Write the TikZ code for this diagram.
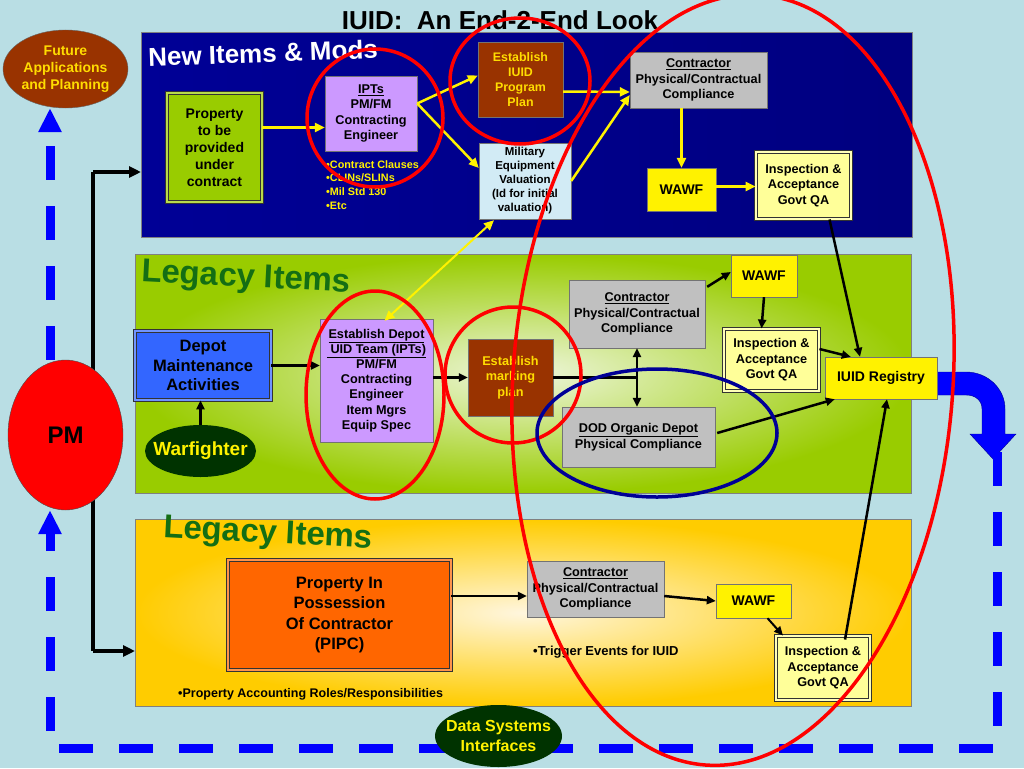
\documentclass[tikz,border=0pt]{standalone}
\usepackage{fontspec}
\setmainfont{Liberation Sans}
\usetikzlibrary{arrows.meta,calc,shapes.geometric}

\definecolor{bgcol}{RGB}{185,222,228}
\definecolor{navyL}{RGB}{0,0,150}
\definecolor{navyM}{RGB}{0,0,70}
\definecolor{propgreen}{RGB}{153,204,0}
\definecolor{lilac}{RGB}{204,153,255}
\definecolor{brownbox}{RGB}{153,51,0}
\definecolor{mevblue}{RGB}{210,235,245}
\definecolor{graybox}{RGB}{192,192,192}
\definecolor{paleyel}{RGB}{255,255,153}
\definecolor{depotblue}{RGB}{51,102,255}
\definecolor{darkgrn}{RGB}{0,51,0}
\definecolor{pipcorange}{RGB}{255,102,0}
\definecolor{lblgreen}{RGB}{20,110,20}
\definecolor{gold}{RGB}{255,220,0}
\definecolor{loopblue}{RGB}{0,0,255}
\definecolor{ringblue}{RGB}{0,0,150}

\tikzset{
  box/.style={draw=black!55, text=black, align=center, inner sep=1pt,
    font=\fontsize{12.7}{15.5}\selectfont\bfseries},
  dblbox/.style={box, draw=black!80, double=#1!70!white, double distance=2.2pt, line width=0.9pt, fill=#1},
  panel/.style={draw=black!50, anchor=north west, inner sep=0pt},
  oval/.style={ellipse, inner sep=0pt},
  yarrow/.style={draw=yellow, line width=2.5pt, -{Triangle[length=10pt,width=9pt]}},
  barrow/.style={draw=black, line width=2.5pt, -{Triangle[length=9pt,width=8pt]}},
  pmline/.style={draw=black, line width=4pt},
  loopline/.style={draw=loopblue, line width=9pt, dash pattern=on 34pt off 26pt,
    -{Triangle[length=24pt,width=22pt]}},
  ring/.style={draw=red, line width=3.5pt},
  lbl/.style={font=\fontsize{33}{36}\selectfont\bfseries, text=lblgreen, inner sep=1pt}
}

\begin{document}
\begin{tikzpicture}[x=1pt,y=-1pt]
\fill[bgcol] (0,0) rectangle (1024,768);
\useasboundingbox (0,0) rectangle (1024,768);

\node[panel, left color=navyL, middle color=navyM, right color=navyL!85!black,
  minimum width=771, minimum height=205] (newp) at (141,32) {};
\node[panel, inner color={rgb,255:red,238;green,246;blue,220}, outer color=propgreen,
  minimum width=776, minimum height=239] (legp) at (135,254) {};
\node[panel, inner color={rgb,255:red,255;green,246;blue,222}, outer color={rgb,255:red,255;green,204;blue,0},
  minimum width=776, minimum height=187] (pipp) at (135,519) {};

\node[font=\fontsize{26}{28}\selectfont\bfseries, text=white, rotate=2] (newlbl) at (263,53) {New Items \& Mods};
\node[lbl, rotate=-3] (leglbl) at (246,279) {Legacy Items};
\node[lbl, rotate=-3] (piplbl) at (268,535) {Legacy Items};

\coordinate (spineT) at (93,172);
\coordinate (spineB) at (93,651);
\coordinate (newin) at (141,172);
\coordinate (legin) at (135,651);
\draw[pmline] (spineT) -- (spineB);
\draw[pmline, -{Triangle[length=12pt,width=11pt]}] (spineT) -- (newin);
\draw[pmline, -{Triangle[length=12pt,width=11pt]}] (spineB) -- (legin);

\fill[loopblue, draw=ringblue] (937,372) -- (966,372) .. controls (987,372) and (1005,388) .. (1005,409)
  -- (1005,434) -- (1016,434) -- (993,459) -- (970,434) -- (982,434) -- (982,409)
  .. controls (982,401) and (976,395) .. (966,395) -- (937,395) -- cycle;

\coordinate (loopR) at (997,452);
\coordinate (loopBR) at (997,748);
\coordinate (loopBL) at (50,748);

\node[oval, fill=red, draw=black!70, minimum width=115, minimum height=150,
  label={[font=\fontsize{24}{26}\selectfont\bfseries]center:PM}] (pm) at (65.5,435) {};
\node[oval, fill=brownbox, draw=black!60, minimum width=125, minimum height=78,
  label={[text=gold, align=center, font=\fontsize{14}{17}\selectfont\bfseries]center:Future\\Applications\\and Planning}] (future) at (65.5,69) {};

\draw[loopline] (loopR) -- (loopBR) -- (loopBL) -- (loopBL |- pm.south);
\draw[loopline] (loopBL |- pm.north) -- (loopBL |- future.south);

\node[dblbox=propgreen, minimum width=95, minimum height=109,
  font=\fontsize{14}{17}\selectfont\bfseries] (prop) at (214.5,147.5) {Property\\to be\\provided\\under\\contract};
\node[box, fill=lilac, minimum width=92, minimum height=75] (ipt) at (371,113.5) {\underline{IPTs}\\PM/FM\\Contracting\\Engineer};
\node[box, fill=brownbox, text=gold, minimum width=85, minimum height=75,
  font=\fontsize{12.4}{15}\selectfont\bfseries] (iuidplan) at (520.5,79.5) {Establish\\IUID\\Program\\Plan};
\node[box, fill=mevblue, minimum width=92, minimum height=76,
  font=\fontsize{11.5}{14}\selectfont\bfseries] (mev) at (525,181) {Military\\Equipment\\Valuation\\(Id for initial\\valuation)};
\node[box, fill=graybox, minimum width=137, minimum height=56] (contrA) at (698.5,80) {\underline{Contractor}\\Physical/Contractual\\Compliance};
\node[box, fill=yellow, minimum width=69, minimum height=43,
  font=\fontsize{14}{17}\selectfont\bfseries] (wawfA) at (681.5,189.5) {WAWF};
\node[dblbox=paleyel, minimum width=95, minimum height=67] (inspA) at (803.5,185.5) {Inspection \&\\Acceptance\\Govt QA};
\node[anchor=north west, text=yellow, align=left, inner sep=0pt,
  font=\fontsize{10.8}{13.7}\selectfont\bfseries] (clauses) at (326,160) {•Contract Clauses\\•CLINs/SLINs\\•Mil Std 130\\•Etc};

\node[dblbox=depotblue, minimum width=136, minimum height=69,
  font=\fontsize{16.5}{19.5}\selectfont\bfseries] (depot) at (203,365.5) {Depot\\Maintenance\\Activities};
\node[oval, fill=darkgrn, minimum width=111, minimum height=52,
  label={[text=yellow, font=\fontsize{19}{21}\selectfont\bfseries]center:Warfighter}] (warf) at (200.5,451) {};
\node[box, fill=lilac, minimum width=113, minimum height=123,
  font=\fontsize{12.7}{15.2}\selectfont\bfseries] (team) at (376.5,380.5) {\underline{Establish Depot}\\\underline{\ UID Team (IPTs)}\\PM/FM\\Contracting\\Engineer\\Item Mgrs\\Equip Spec};
\node[box, fill=brownbox, text=gold, minimum width=85, minimum height=77] (mark) at (510.5,377.5) {Establish\\marking\\plan};
\node[box, fill=graybox, minimum width=136, minimum height=68] (contrB) at (637,314) {\underline{Contractor}\\Physical/Contractual\\Compliance};
\node[box, fill=yellow, minimum width=66, minimum height=42,
  font=\fontsize{14}{17}\selectfont\bfseries] (wawfB) at (764,276) {WAWF};
\node[dblbox=paleyel, minimum width=95, minimum height=62] (inspB) at (771.5,360) {Inspection \&\\Acceptance\\Govt QA};
\node[box, fill=yellow, minimum width=112, minimum height=42,
  font=\fontsize{14}{17}\selectfont\bfseries] (reg) at (881,378) {IUID Registry};
\node[box, fill=graybox, minimum width=153, minimum height=60] (dod) at (638.5,437) {\underline{DOD Organic Depot}\\Physical Compliance};

\node[dblbox=pipcorange, minimum width=223, minimum height=110,
  font=\fontsize{16.5}{20.5}\selectfont\bfseries] (pipc) at (339.5,615) {Property In\\Possession\\Of Contractor\\(PIPC)};
\node[box, fill=graybox, minimum width=137, minimum height=56] (contrC) at (595.5,589) {\underline{Contractor}\\Physical/Contractual\\Compliance};
\node[box, fill=yellow, minimum width=75, minimum height=34,
  font=\fontsize{14}{17}\selectfont\bfseries] (wawfC) at (753.5,601) {WAWF};
\node[dblbox=paleyel, minimum width=94, minimum height=64] (inspC) at (823,668) {Inspection \&\\Acceptance\\Govt QA};
\node[anchor=west, inner sep=0pt, font=\fontsize{13}{15}\selectfont\bfseries] (trig) at (533,652) {•Trigger Events for IUID};
\node[anchor=west, inner sep=0pt, font=\fontsize{12.5}{15}\selectfont\bfseries] (acct) at (178,694) {•Property Accounting Roles/Responsibilities};

\node[oval, fill=darkgrn, minimum width=127, minimum height=62,
  label={[text=yellow, align=center, font=\fontsize{16}{20}\selectfont\bfseries]center:Data Systems\\Interfaces}] (datasys) at (498.5,736) {};

\draw[yarrow] ($(prop.east)+(0,-20)$) -- ($(ipt.west)+(0,14)$);
\draw[yarrow] ($(ipt.east)+(0,-10)$) -- ($(iuidplan.west)+(0,-4)$);
\draw[yarrow] ($(ipt.east)+(0,-10)$) -- ($(mev.west)+(0,-13)$);
\draw[yarrow] ($(iuidplan.east)+(0,12)$) -- ($(contrA.west)+(0,12)$);
\draw[yarrow] (mev.east) -- ($(contrA.west)+(0,15)$);
\draw[yarrow] (contrA.south -| wawfA.north) -- (wawfA.north);
\draw[yarrow] ($(wawfA.east)+(0,-3)$) -- ($(inspA.west)+(0,1)$);
\draw[yarrow, {Triangle[length=10pt,width=9pt]}-{Triangle[length=10pt,width=9pt]}, line width=2pt]
  ($(team.north)+(8,2)$) -- ($(mev.south)+(-31,1)$);

\draw[barrow] (depot.east) -- (team.west |- depot.east);
\draw[barrow] (team.east |- mark.west) -- (mark.west);
\draw[draw=black, line width=2.5pt] (mark.east) -- (contrB.south |- mark.east);
\draw[barrow, {Triangle[length=9pt,width=8pt]}-{Triangle[length=9pt,width=8pt]}] (contrB.south) -- (contrB.south |- dod.north);
\draw[barrow] (warf.north) -- (warf.north |- depot.south);
\draw[barrow] ($(contrB.north east)+(2,7)$) -- ($(wawfB.west)+(0,-4)$);
\draw[barrow] (wawfB.south) -- ($(inspB.north)+(-10,0)$);
\draw[barrow] ($(inspB.east)+(0,-11)$) -- ($(reg.north west)+(26,0)$);
\draw[barrow] ($(inspA.south)+(26,0)$) -- ($(reg.north)+(-21,0)$);
\draw[barrow] ($(dod.east)+(2,-4)$) -- ($(reg.south west)+(10,0)$);
\draw[barrow] ($(inspC.north)+(22,4)$) -- ($(reg.south)+(6,0)$);

\draw[barrow] ($(pipc.east)+(0,-19)$) -- ($(contrC.west)+(0,7)$);
\draw[barrow] ($(contrC.east)+(0,7)$) -- (wawfC.west);
\draw[barrow, line width=2pt] ($(wawfC.south)+(14,0)$) -- ($(inspC.north)+(-40,0)$);

\node[font=\fontsize{26}{30}\selectfont\bfseries] (title) at (500,20) {IUID:\ \ An End-2-End Look};

\draw[ring] (375,118) ellipse [x radius=68, y radius=69];
\draw[ring] (520,81) ellipse [x radius=70, y radius=63];
\draw[ring] (375,395) ellipse [x radius=69, y radius=104];
\draw[ring] (513,375) ellipse [x radius=68, y radius=68];
\draw[ring, rotate around={-4:(733,380)}] (733,380) ellipse [x radius=220, y radius=386];
\draw[draw=ringblue, line width=3.5pt] (657,433) ellipse [x radius=120, y radius=64];
\end{tikzpicture}
\end{document}
